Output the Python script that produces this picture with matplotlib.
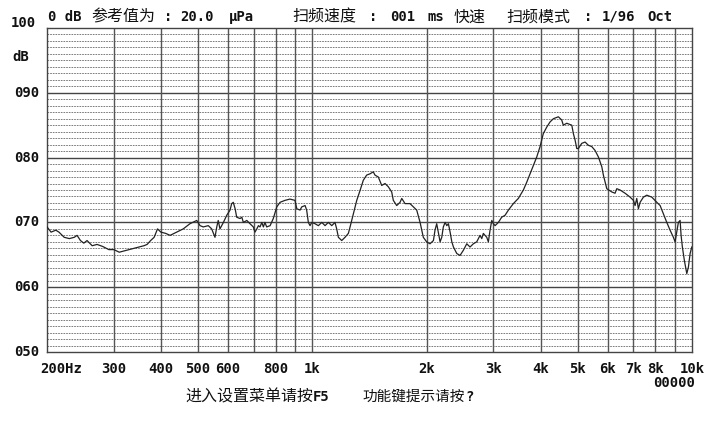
import numpy as np
import matplotlib
matplotlib.use('Agg')
import matplotlib.pyplot as plt
from matplotlib.ticker import NullLocator, NullFormatter

# 频率响应曲线 (Hz, dB)
freq = [200, 205, 211, 215, 222, 229, 236, 240, 245, 250, 255, 263, 271, 280, 291,
        300, 310, 319, 329, 339, 349, 360, 367, 375, 383, 391, 399, 411,
        422, 439, 457, 476, 496, 506, 516, 532, 543, 554, 560, 565, 571, 583, 595,
        607, 613, 619, 626, 632, 645, 652, 658, 672, 685, 699, 706, 714, 721, 728,
        736, 743, 750, 758, 774, 789, 806, 822, 847, 873, 900, 910, 928,
        938, 957, 966, 976, 986, 996, 1016, 1037, 1059, 1080, 1102, 1125, 1147,
        1159, 1171, 1195, 1219, 1244, 1257, 1282, 1309, 1335, 1362, 1390, 1419,
        1447, 1462, 1492, 1523, 1554, 1585, 1618, 1634, 1668, 1702, 1720, 1754,
        1808, 1845, 1883, 1922, 1960, 2000, 2041, 2084, 2104, 2126, 2147, 2170,
        2192, 2213, 2237, 2260, 2282, 2306, 2330, 2353, 2401, 2449, 2499, 2551,
        2602, 2655, 2710, 2765, 2794, 2821, 2880, 2908, 2938, 2969, 2998, 3029,
        3090, 3153, 3218, 3284, 3384, 3488, 3596, 3670, 3745, 3820, 3900, 3979,
        4058, 4143, 4227, 4314, 4446, 4538, 4582, 4678, 4824, 4870, 4921, 4971,
        5020, 5124, 5229, 5334, 5445, 5555, 5668, 5786, 5842, 5964, 6147, 6271,
        6336, 6464, 6664, 6870, 7009, 7081, 7154, 7224, 7299, 7447, 7601, 7836,
        8078, 8242, 8408, 8582, 8755, 8933, 9025, 9118, 9207, 9304, 9360, 9433,
        9549, 9689, 9784, 9886, 9988]
level = [69.3, 68.5, 68.8, 68.5, 67.7, 67.5, 67.7, 68.0, 67.2, 66.8, 67.2, 66.4, 66.6, 66.3, 65.8,
         65.8, 65.4, 65.6, 65.8, 66.0, 66.2, 66.4, 66.6, 67.2, 67.7, 69.0, 68.5, 68.3,
         68.0, 68.5, 69.0, 69.8, 70.3, 69.5, 69.3, 69.5, 69.0, 67.7, 69.3, 70.3, 69.0, 70.0, 71.1,
         71.9, 72.9, 73.1, 72.1, 70.8, 70.6, 70.8, 70.0, 70.3, 69.8, 69.3, 68.5, 69.0, 69.5, 69.3,
         70.0, 69.3, 70.0, 69.3, 69.5, 70.6, 72.4, 73.1, 73.4, 73.6, 73.4, 72.1, 71.9,
         72.4, 72.6, 71.9, 70.0, 69.5, 70.0, 69.8, 69.5, 70.0, 69.5, 70.0, 69.5, 70.0,
         69.0, 67.7, 67.2, 67.7, 68.3, 69.3, 71.3, 73.4, 74.9, 76.5, 77.3, 77.5,
         77.8, 77.3, 77.0, 75.7, 76.0, 75.5, 74.7, 73.4, 72.6, 73.1, 73.7, 72.9,
         72.9, 72.4, 71.9, 70.0, 67.7, 67.0, 66.7, 67.2, 68.8, 69.8, 68.5, 67.0,
         67.7, 69.3, 70.0, 69.5, 69.8, 68.5, 67.0, 66.2, 65.2, 64.9, 65.7, 66.7,
         66.2, 66.7, 67.0, 68.0, 67.5, 68.3, 67.7, 67.0, 68.8, 70.3, 69.8, 69.5,
         70.0, 70.8, 71.1, 71.9, 72.9, 73.7, 75.0, 76.2, 77.5, 78.8, 80.1, 81.7,
         83.7, 84.7, 85.5, 86.0, 86.3, 85.8, 85.0, 85.3, 85.0, 83.7, 82.7, 81.4,
         81.4, 82.2, 82.4, 81.9, 81.7, 81.1, 80.1, 78.6, 77.3, 75.2, 74.7, 74.5,
         75.2, 75.0, 74.5, 73.9, 73.4, 72.6, 73.7, 72.1, 73.1, 73.9, 74.2, 73.9,
         73.1, 72.6, 71.3, 70.0, 68.8, 67.7, 67.0, 68.5, 70.0, 70.3, 68.0, 66.2,
         64.1, 62.1, 63.1, 65.2, 66.2]

xtick_freq = [200, 300, 400, 500, 600, 800, 1000, 2000, 3000, 4000, 5000, 6000, 7000, 8000, 10000]
xtick_text = ['200Hz', '300', '400', '500', '600', '800', '1k', '2k', '3k', '4k',
              '5k', '6k', '7k', '8k', '10k']
ytick_db = [90, 80, 70, 60, 50]
ytick_text = ['090', '080', '070', '060', '050']

W, H = 712, 421
MONO = 'DejaVu Sans Mono'
CJK = 'Noto Sans CJK SC'

fig = plt.figure(figsize=(W / 100, H / 100), dpi=100, facecolor='white')
ax = fig.add_axes([47 / W, 1 - 352 / H, 645 / W, 324 / H])
ax.set_xscale('log')
ax.set_xlim(200, 10000)
ax.set_ylim(50, 100)
ax.xaxis.set_major_locator(NullLocator())
ax.xaxis.set_minor_locator(NullLocator())
ax.xaxis.set_minor_formatter(NullFormatter())
ax.set_yticks([])

# 网格
for d in range(51, 100):
    if d % 10 == 0:
        ax.axhline(d, color='#444444', lw=1.0, zorder=1)
    else:
        ax.axhline(d, color='#666666', lw=0.6, ls=(0, (2, 1.2)), zorder=1)
for f in list(range(300, 1000, 100)) + list(range(1000, 10000, 1000)):
    ax.axvline(f, color='#555555', lw=1.0, zorder=1)
for s in ax.spines.values():
    s.set_color('#444444')
    s.set_linewidth(1.0)

ax.plot(freq, level, color='#222222', lw=0.9, zorder=3)


def put(x, y, s, size=10, family=MONO, weight='bold', ha='left'):
    fig.text(x / W, 1 - y / H, s, fontsize=size, family=family,
             fontweight=weight, ha=ha, va='center', color='#111111')


# x 轴标签
for f, t in zip(xtick_freq, xtick_text):
    xp = 47 + 645 * np.log10(f / 200) / np.log10(50)
    if t == '200Hz':
        put(40, 369, t)
    else:
        put(xp, 369, t, ha='center')

# y 轴标签
for d, t in zip(ytick_db, ytick_text):
    put(39, 28 + (100 - d) * 324 / 50, t, ha='right')
put(36, 23, '100', ha='right')
put(12, 57, 'dB')

# 顶部说明
put(48, 17, '0 dB')
put(91, 17, '参考值为', size=11.5, family=CJK, weight='normal')
put(164, 17, ':')
put(180, 17, '20.0')
put(229, 17, 'μPa')
put(292, 17, '扫频速度', size=11.5, family=CJK, weight='normal')
put(369, 17, ':')
put(390, 17, '001')
put(427, 17, 'ms')
put(454, 17, '快速', size=11.5, family=CJK, weight='normal')
put(506, 17, '扫频模式', size=11.5, family=CJK, weight='normal')
put(584, 17, ':')
put(602, 17, '1/96')
put(647, 17, 'Oct')

# 底部
put(674, 383, '00000', ha='center')
put(185, 397, '进入设置菜单请按', size=11.5, family=CJK, weight='normal')
put(313, 397, 'F5')
put(362, 397, '功能键提示请按', size=10.5, family=CJK, weight='normal')
put(465, 397, '?')

fig.savefig('out.png', dpi=100, facecolor='white')
